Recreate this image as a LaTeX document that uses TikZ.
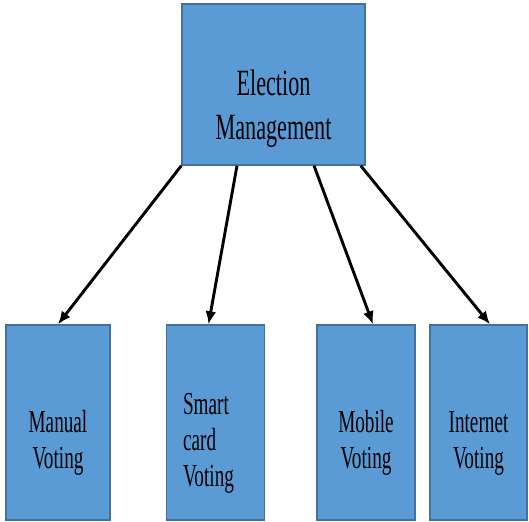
\documentclass[tikz,border=0pt]{standalone}
\usepackage{fontspec}
\usepackage{graphicx}
\usepackage{tikz}
\usetikzlibrary{
  arrows.meta,
  positioning
}
\setmainfont{Liberation Serif}
\definecolor{evFill}{HTML}{5B9BD5}
\definecolor{evDraw}{HTML}{41719C}
\newcommand{\evnarrow}[1]{\scalebox{0.6}[1]{#1}}
\newcommand{\evtoppad}{\rule{0pt}{73pt}}
\newcommand{\evpad}{\rule{0pt}{62pt}}
\tikzset{
  evbox/.style={
    draw=evDraw, fill=evFill, line width=1.4pt, inner sep=0pt, align=center
  },
  evtop/.style={evbox, minimum width=183pt, minimum height=161pt,
    font=\fontsize{37}{44}\selectfont},
  evitem/.style={evbox, minimum width=98pt, minimum height=195pt,
    font=\fontsize{32}{36}\selectfont},
  evarrow/.style={-{Latex[length=13pt, width=11pt]}, line width=2.9pt, black}
}
\begin{document}
\begin{tikzpicture}[x=1pt, y=1pt]
  \useasboundingbox (0,0) rectangle (529,-521);
  \node[evtop] (elect) at (273.5,-84.5)
    {\evtoppad\evnarrow{Election}\\\evnarrow{Management}};
  \node[evitem, minimum width=104pt] (manual) at (58,-422.5)
    {\evpad\evnarrow{Manual}\\\evnarrow{Voting}};
  \node[evitem, align=left] (smart) at (215.5,-422.5)
    {\evpad\evnarrow{Smart}\\\evnarrow{card}\\\evnarrow{Voting}\kern14pt};
  \node[evitem] (mobile) at (366,-422.5)
    {\evpad\evnarrow{Mobile}\\\evnarrow{Voting}};
  \node[evitem, minimum width=97pt] (inet) at (478.5,-422.5)
    {\evpad\evnarrow{Internet}\\\evnarrow{Voting}};
  \draw[evarrow] (elect.south west) -- (manual.north);
  \draw[evarrow] ([xshift=-36.5pt]elect.south) -- ([xshift=-7pt]smart.north);
  \draw[evarrow] ([xshift=40.5pt]elect.south) -- ([xshift=7pt]mobile.north);
  \draw[evarrow] ([xshift=-5pt]elect.south east) -- ([xshift=11.5pt]inet.north);
\end{tikzpicture}
\end{document}
